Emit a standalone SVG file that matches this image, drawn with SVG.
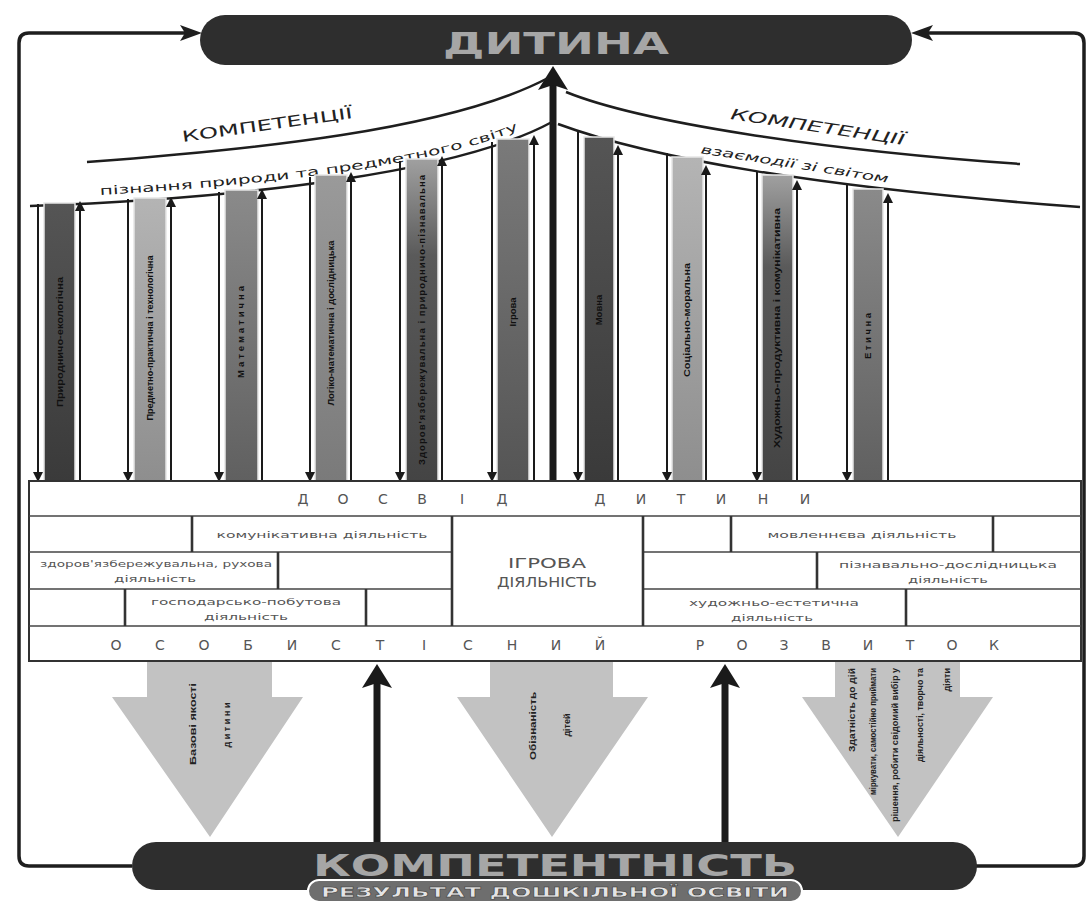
<svg xmlns="http://www.w3.org/2000/svg" width="1089" height="912" viewBox="0 0 1089 912">
<style>
.frame{fill:none;stroke:#1e1e1e;stroke-width:3.5;stroke-linejoin:round}
.curve{fill:none;stroke:#1e1e1e;stroke-width:2.5}
.thin{stroke:#1a1a1a;stroke-width:2;fill:none}
.thick{stroke:#1a1a1a;stroke-width:7;fill:none}
.bar{stroke:#e6e6e6;stroke-width:1.5}
.bt{font-family:"Liberation Sans Narrow","Liberation Sans",sans-serif;font-size:9.5px;font-weight:bold;fill:#111;text-anchor:middle}
.hl{stroke:#444;stroke-width:1.6}
.vl{stroke:#333;stroke-width:2.6}
.ct{font-family:"DejaVu Sans",sans-serif;font-size:9px;fill:#555;text-anchor:middle}
.sp{font-family:"DejaVu Sans",sans-serif;font-size:14px;fill:#555;text-anchor:middle}
.pill{fill:#2e2e2e}
.big{font-family:"DejaVu Sans","Liberation Sans",sans-serif;font-weight:bold;fill:#a6a6a6;text-anchor:middle}
.cap{font-family:"DejaVu Sans",sans-serif;fill:#222;text-anchor:middle}
.garrow{fill:#c2c2c2}
.at{font-family:"Liberation Sans Narrow","Liberation Sans",sans-serif;font-size:9px;font-weight:bold;fill:#222}
</style>
<defs>
<marker id="sm" markerUnits="userSpaceOnUse" viewBox="0 0 10 10" markerWidth="10" markerHeight="10" refX="2" refY="5" orient="auto"><path d="M0,0 L10,5 L0,10 z" fill="#1a1a1a"/></marker>
<marker id="bg" markerUnits="userSpaceOnUse" viewBox="0 0 24 30" markerWidth="24" markerHeight="30" refX="6" refY="15" orient="auto"><path d="M0,0 L24,15 L0,30 L5,15 z" fill="#1a1a1a"/></marker>
<marker id="fr" markerUnits="userSpaceOnUse" viewBox="0 0 22 16" markerWidth="22" markerHeight="16" refX="6" refY="8" orient="auto"><path d="M0,0 L22,8 L0,16 L5,8 z" fill="#1e1e1e"/></marker>
<linearGradient id="g1" x1="0" y1="0" x2="0" y2="1"><stop offset="0" stop-color="#555"/><stop offset="1" stop-color="#3a3a3a"/></linearGradient>
<linearGradient id="g2" x1="0" y1="0" x2="0" y2="1"><stop offset="0" stop-color="#b4b4b4"/><stop offset="1" stop-color="#8e8e8e"/></linearGradient>
<linearGradient id="g3" x1="0" y1="0" x2="0" y2="1"><stop offset="0" stop-color="#8a8a8a"/><stop offset="1" stop-color="#606060"/></linearGradient>
<linearGradient id="g4" x1="0" y1="0" x2="0" y2="1"><stop offset="0" stop-color="#9a9a9a"/><stop offset="1" stop-color="#7a7a7a"/></linearGradient>
<linearGradient id="g5" x1="0" y1="0" x2="0" y2="1"><stop offset="0" stop-color="#a0a0a0"/><stop offset="0.3" stop-color="#5a5a5a"/><stop offset="1" stop-color="#444"/></linearGradient>
<linearGradient id="g6" x1="0" y1="0" x2="0" y2="1"><stop offset="0" stop-color="#7a7a7a"/><stop offset="1" stop-color="#555"/></linearGradient>
<path id="tp1" d="M100 195 C270 185, 440 165, 522 128"/>
</defs>

<g id="connectors">
<path class="frame" d="M132 866 H29 Q19 866 19 856 V43 Q19 33 29 33 H186" marker-end="url(#fr)"/>
<path class="frame" d="M976 866 H1074 Q1084 866 1084 856 V43 Q1084 33 1074 33 H927" marker-end="url(#fr)"/>
<line class="thick" x1="553" y1="482" x2="553" y2="84" marker-end="url(#bg)"/>
<line class="thick" x1="377" y1="843" x2="377" y2="682" marker-end="url(#bg)"/>
<line class="thick" x1="725" y1="843" x2="725" y2="682" marker-end="url(#bg)"/>
</g>

<g id="child">
<rect x="200" y="15" width="712" height="50" rx="25" class="pill"/>
<text x="556" y="54" class="big" font-size="31" textLength="226" lengthAdjust="spacingAndGlyphs">ДИТИНА</text>
</g>

<g id="competence-left">
<path class="curve" d="M87 162 C250 150, 450 130, 548 78"/>
<path class="curve" d="M30 206 C250 198, 460 172, 552 122"/>
<text class="cap" font-size="15" transform="rotate(-8 268 130)" x="268" y="130" textLength="172" lengthAdjust="spacingAndGlyphs">КОМПЕТЕНЦІЇ</text>
<text class="cap" font-size="12"><textPath href="#tp1" textLength="425" lengthAdjust="spacingAndGlyphs" startOffset="0" text-anchor="start">пізнання природи та предметного світу</textPath></text>
</g>

<g id="competence-right">
<path class="curve" d="M566 92 C640 122, 820 150, 1020 164"/>
<path class="curve" d="M558 124 C650 158, 820 188, 1080 207"/>
<text class="cap" font-size="15" font-style="italic" transform="rotate(8.5 817 132)" x="817" y="132" textLength="176" lengthAdjust="spacingAndGlyphs">КОМПЕТЕНЦІЇ</text>
<text class="cap" font-size="12" font-style="italic" transform="rotate(9 794 168)" x="794" y="168" textLength="190" lengthAdjust="spacingAndGlyphs">взаємодії зі світом</text>
</g>

<g id="bar1">
<rect class="bar" x="44" y="203" width="31" height="278" fill="url(#g1)"/>
<line class="thin" x1="38" y1="204" x2="38" y2="474" marker-end="url(#sm)"/>
<line class="thin" x1="80" y1="482" x2="80" y2="209" marker-end="url(#sm)"/>
<text class="bt" transform="rotate(-90 60 342)" x="60" y="345" textLength="130" lengthAdjust="spacingAndGlyphs">Природничо-екологічна</text>
</g>
<g id="bar2">
<rect class="bar" x="134" y="198" width="32" height="283" fill="url(#g2)"/>
<line class="thin" x1="128" y1="199" x2="128" y2="474" marker-end="url(#sm)"/>
<line class="thin" x1="171" y1="482" x2="171" y2="205" marker-end="url(#sm)"/>
<text class="bt" transform="rotate(-90 150 338)" x="150" y="341" textLength="165" lengthAdjust="spacingAndGlyphs">Предметно-практична і технологічна</text>
</g>
<g id="bar3">
<rect class="bar" x="225" y="190" width="33" height="291" fill="url(#g3)"/>
<line class="thin" x1="219" y1="192" x2="219" y2="474" marker-end="url(#sm)"/>
<line class="thin" x1="262" y1="482" x2="262" y2="197" marker-end="url(#sm)"/>
<text class="bt" transform="rotate(-90 241 332)" x="241" y="335" textLength="92" lengthAdjust="spacing">Математична</text>
</g>
<g id="bar4">
<rect class="bar" x="315" y="175" width="32" height="306" fill="url(#g4)"/>
<line class="thin" x1="310" y1="177" x2="310" y2="474" marker-end="url(#sm)"/>
<line class="thin" x1="351" y1="482" x2="351" y2="180" marker-end="url(#sm)"/>
<text class="bt" transform="rotate(-90 331 323)" x="331" y="326" textLength="165" lengthAdjust="spacingAndGlyphs">Логіко-математична і дослідницька</text>
</g>
<g id="bar5">
<rect class="bar" x="406" y="159" width="32" height="322" fill="url(#g5)"/>
<line class="thin" x1="400" y1="161" x2="400" y2="474" marker-end="url(#sm)"/>
<line class="thin" x1="442" y1="482" x2="442" y2="164" marker-end="url(#sm)"/>
<text class="bt" transform="rotate(-90 422 320)" x="422" y="323" textLength="290" lengthAdjust="spacing">Здоров'язбережувальна і природничо-пізнавальна</text>
</g>
<g id="bar6">
<rect class="bar" x="497" y="139" width="32" height="342" fill="url(#g6)"/>
<line class="thin" x1="492" y1="142" x2="492" y2="474" marker-end="url(#sm)"/>
<line class="thin" x1="534" y1="482" x2="534" y2="143" marker-end="url(#sm)"/>
<text class="bt" transform="rotate(-90 513 312)" x="513" y="315">Ігрова</text>
</g>
<g id="bar7">
<rect class="bar" x="584" y="137" width="30" height="344" fill="url(#g1)"/>
<line class="thin" x1="578" y1="132" x2="578" y2="474" marker-end="url(#sm)"/>
<line class="thin" x1="618" y1="482" x2="618" y2="153" marker-end="url(#sm)"/>
<text class="bt" transform="rotate(-90 599 310)" x="599" y="313">Мовна</text>
</g>
<g id="bar8">
<rect class="bar" x="672" y="157" width="31" height="324" fill="url(#g2)"/>
<line class="thin" x1="667" y1="153" x2="667" y2="474" marker-end="url(#sm)"/>
<line class="thin" x1="706" y1="482" x2="706" y2="173" marker-end="url(#sm)"/>
<text class="bt" transform="rotate(-90 687 320)" x="687" y="323" textLength="114" lengthAdjust="spacingAndGlyphs">Соціально-моральна</text>
</g>
<g id="bar9">
<rect class="bar" x="762" y="175" width="31" height="306" fill="url(#g5)"/>
<line class="thin" x1="757" y1="172" x2="757" y2="474" marker-end="url(#sm)"/>
<line class="thin" x1="797" y1="482" x2="797" y2="188" marker-end="url(#sm)"/>
<text class="bt" transform="rotate(-90 777 328)" x="777" y="331" textLength="240" lengthAdjust="spacingAndGlyphs">Художньо-продуктивна і комунікативна</text>
</g>
<g id="bar10">
<rect class="bar" x="853" y="189" width="30" height="292" fill="url(#g3)"/>
<line class="thin" x1="847" y1="185" x2="847" y2="474" marker-end="url(#sm)"/>
<line class="thin" x1="888" y1="482" x2="888" y2="201" marker-end="url(#sm)"/>
<text class="bt" transform="rotate(-90 868 336)" x="868" y="339" textLength="46" lengthAdjust="spacing">Етична</text>
</g>

<g id="experience-table">
<rect x="29" y="481" width="1052" height="180" fill="#fff" stroke="#333" stroke-width="2"/>
<line class="hl" x1="29" y1="516" x2="1081" y2="516"/>
<line class="hl" x1="29" y1="552" x2="452" y2="552"/>
<line class="hl" x1="643" y1="552" x2="1081" y2="552"/>
<line class="hl" x1="29" y1="589" x2="452" y2="589"/>
<line class="hl" x1="643" y1="589" x2="1081" y2="589"/>
<line class="hl" x1="29" y1="626" x2="1081" y2="626"/>
<line class="vl" x1="452" y1="516" x2="452" y2="626"/>
<line class="vl" x1="643" y1="516" x2="643" y2="626"/>
<line class="vl" x1="192" y1="516" x2="192" y2="552"/>
<line class="vl" x1="731" y1="516" x2="731" y2="552"/>
<line class="vl" x1="993" y1="516" x2="993" y2="552"/>
<line class="vl" x1="278" y1="552" x2="278" y2="589"/>
<line class="vl" x1="817" y1="552" x2="817" y2="589"/>
<line class="vl" x1="125" y1="589" x2="125" y2="626"/>
<line class="vl" x1="366" y1="589" x2="366" y2="626"/>
<line class="vl" x1="906" y1="589" x2="906" y2="626"/>
<text class="sp" x="303 343 383 422 462 502 600 641 681 721 763 805" y="504">ДОСВІДДИТИНИ</text>
<text class="sp" x="116 160 204 248 292 336 380 424 468 512 556 600 700 742 784 826 868 910 952 994" y="650">ОСОБИСТІСНИЙРОЗВИТОК</text>
<text class="ct" x="322" y="538" textLength="211" lengthAdjust="spacingAndGlyphs">комунікативна діяльність</text>
<text class="ct" x="156" y="567" textLength="232" lengthAdjust="spacingAndGlyphs">здоров'язбережувальна, рухова</text>
<text class="ct" x="155" y="582" textLength="82" lengthAdjust="spacingAndGlyphs">діяльність</text>
<text class="ct" x="246" y="605" textLength="190" lengthAdjust="spacingAndGlyphs">господарсько-побутова</text>
<text class="ct" x="246" y="620" textLength="84" lengthAdjust="spacingAndGlyphs">діяльність</text>
<text class="ct" x="862" y="538" textLength="189" lengthAdjust="spacingAndGlyphs">мовленнєва діяльність</text>
<text class="ct" x="948" y="568" textLength="218" lengthAdjust="spacingAndGlyphs">пізнавально-дослідницька</text>
<text class="ct" x="948" y="583" textLength="80" lengthAdjust="spacingAndGlyphs">діяльність</text>
<text class="ct" x="774" y="606" textLength="170" lengthAdjust="spacingAndGlyphs">художньо-естетична</text>
<text class="ct" x="772" y="621" textLength="82" lengthAdjust="spacingAndGlyphs">діяльність</text>
<text class="sp" x="547" y="568" textLength="78" lengthAdjust="spacingAndGlyphs">ІГРОВА</text>
<text class="sp" x="547" y="587" textLength="100" lengthAdjust="spacingAndGlyphs">ДІЯЛЬНІСТЬ</text>
</g>

<g id="result-arrow1">
<polygon class="garrow" points="147,662 272,662 272,697 303,697 210,837 112,697 147,697"/>
<text class="at" text-anchor="middle" transform="rotate(-90 193 724)" x="193" y="727" textLength="82" lengthAdjust="spacingAndGlyphs">Базові якості</text>
<text class="at" text-anchor="middle" transform="rotate(-90 227 725)" x="227" y="728" textLength="45" lengthAdjust="spacing">дитини</text>
</g>
<g id="result-arrow2">
<polygon class="garrow" points="490,662 613,662 613,697 648,697 552,837 457,697 490,697"/>
<text class="at" text-anchor="middle" transform="rotate(-90 533 726)" x="533" y="729" textLength="68" lengthAdjust="spacingAndGlyphs">Обізнаність</text>
<text class="at" text-anchor="middle" transform="rotate(-90 567 725)" x="567" y="728">дітей</text>
</g>
<g id="result-arrow3">
<polygon class="garrow" points="835,662 960,662 960,697 993,697 898,837 802,697 835,697"/>
<text class="at" text-anchor="end" transform="rotate(-90 852 668)" x="852" y="671" textLength="84" lengthAdjust="spacingAndGlyphs">Здатність до дій</text>
<text class="at" text-anchor="end" transform="rotate(-90 873 668)" x="873" y="671" textLength="127" lengthAdjust="spacingAndGlyphs">міркувати, самостійно приймати</text>
<text class="at" text-anchor="end" transform="rotate(-90 895 668)" x="895" y="671" textLength="154" lengthAdjust="spacingAndGlyphs">рішення, робити свідомий вибір у</text>
<text class="at" text-anchor="end" transform="rotate(-90 920 668)" x="920" y="671" textLength="94" lengthAdjust="spacingAndGlyphs">діяльності, творчо та</text>
<text class="at" text-anchor="end" transform="rotate(-90 947 668)" x="947" y="671">діяти</text>
</g>

<g id="competence-result">
<rect x="132" y="842" width="845" height="48" rx="24" class="pill"/>
<text x="555" y="876" class="big" font-size="31" textLength="484" lengthAdjust="spacingAndGlyphs">КОМПЕТЕНТНІСТЬ</text>
<rect x="308" y="880" width="494" height="22" rx="11" fill="#6e6e6e" stroke="#fff" stroke-width="2"/>
<text x="555" y="897" font-family="DejaVu Sans, sans-serif" font-weight="bold" font-size="14" fill="#e4e4e4" stroke="#333" stroke-width="0.4" text-anchor="middle" textLength="468" lengthAdjust="spacingAndGlyphs">РЕЗУЛЬТАТ ДОШКІЛЬНОЇ ОСВІТИ</text>
</g>
</svg>
